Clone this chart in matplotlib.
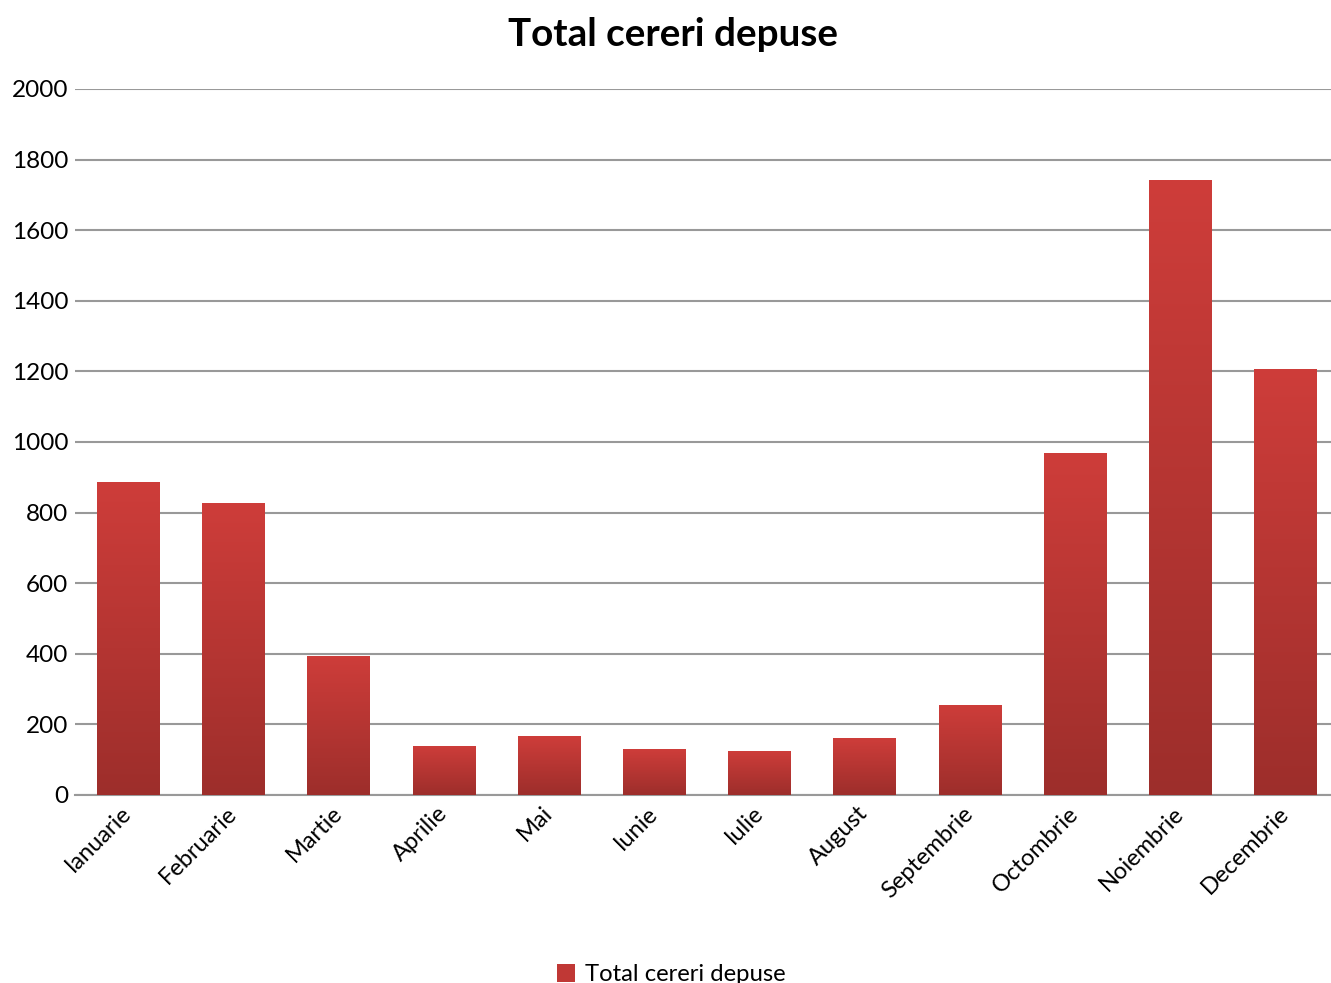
import numpy as np
import matplotlib.pyplot as plt
import matplotlib.transforms as mtransforms
from matplotlib.colors import LinearSegmentedColormap
from matplotlib.patches import Patch

# date
luni = ["Ianuarie", "Februarie", "Martie", "Aprilie", "Mai", "Iunie",
        "Iulie", "August", "Septembrie", "Octombrie", "Noiembrie", "Decembrie"]
cereri = [887, 827, 394, 139, 167, 130, 125, 161, 255, 969, 1742, 1207]
y_ticks = [0, 200, 400, 600, 800, 1000, 1200, 1400, 1600, 1800, 2000]

plt.rcParams['font.family'] = ['Lato', 'DejaVu Sans']

fig = plt.figure(figsize=(13.31, 9.83), dpi=100)
ax = fig.add_axes([0.0566, 0.1913, 0.9485, 0.7182])

x = np.arange(len(luni))
bars = ax.bar(x, cereri, width=0.59, color='#b83632', zorder=2)

# gradient vertical pe fiecare bara (deschis sus, inchis jos)
cmap = LinearSegmentedColormap.from_list('rosu', ['#9d2e2b', '#ce3d3a'])
grad = np.linspace(0, 1, 256).reshape(-1, 1)
for b in bars:
    x0, w, h = b.get_x(), b.get_width(), b.get_height()
    im = ax.imshow(grad, cmap=cmap, origin='lower', aspect='auto',
                   extent=[x0, x0 + w, 0, h], zorder=3)
    im.set_clip_path(b)

ax.set_xlim(-0.5, len(luni) - 0.5)
ax.set_ylim(0, 2000)
ax.set_yticks(y_ticks)
ax.set_yticklabels([str(t) for t in y_ticks], fontsize=17.5)
ax.set_xticks(x)
ax.set_xticklabels(luni, rotation=45, ha='right', rotation_mode='anchor', fontsize=17)
ax.tick_params(axis='y', length=0, pad=5)
ax.tick_params(axis='x', length=0, pad=7)

# mutam etichetele putin la stanga / sus
offset = mtransforms.ScaledTranslation(-7 / 100, 2 / 100, fig.dpi_scale_trans)
for lbl in ax.get_xticklabels():
    lbl.set_transform(lbl.get_transform() + offset)

ax.grid(axis='y', color='#999999', linewidth=1.5, zorder=0)
ax.set_axisbelow(True)
for s in ['top', 'right', 'left']:
    ax.spines[s].set_visible(False)
ax.spines['bottom'].set_color('#999999')
ax.spines['bottom'].set_linewidth(1.5)

fig.suptitle('Total cereri depuse', fontsize=27.8, fontweight='bold', x=0.506, y=0.983)

handle = Patch(facecolor='#c03835', edgecolor='none')
fig.legend([handle], ['Total cereri depuse'], loc='lower center',
           bbox_to_anchor=(0.5045, -0.024), frameon=False, fontsize=17.2,
           handlelength=0.75, handleheight=0.75, handletextpad=0.4)

fig.savefig('out.png', dpi=100)
